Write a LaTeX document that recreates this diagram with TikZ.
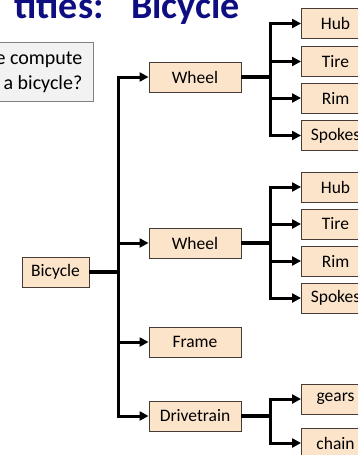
\documentclass[tikz,border=0pt]{standalone}
\usepackage{fontspec}
\setmainfont{Carlito}
\usetikzlibrary{arrows.meta}
\definecolor{titleblue}{RGB}{14,14,130}
\definecolor{peach}{RGB}{252,228,202}
\definecolor{boxline}{RGB}{70,60,55}
\definecolor{greyfill}{RGB}{242,242,242}
\definecolor{greyline}{RGB}{128,128,128}
\tikzset{
  part/.style={draw=boxline, line width=0.9pt, fill=peach, inner sep=0pt,
    minimum height=30pt, font=\fontsize{17.5}{20}\selectfont},
  lvlone/.style={part, minimum width=92pt},
  lvltwo/.style={part, minimum width=68pt},
  stem/.style={line width=3.6pt},
  branch/.style={line width=3pt, -{Triangle[length=9pt,width=9pt]}},
}
\begin{document}
\begin{tikzpicture}[x=1pt,y=-1pt]
\useasboundingbox (0,0) rectangle (358,455);
\begin{scope}
\clip (0,0) rectangle (358,455);
% title
\node[anchor=base east, inner sep=0pt, text=titleblue, font=\fontsize{38}{40}\bfseries] (t1) at (104,19) {tities:};
\node[anchor=base west, inner sep=0pt, text=titleblue, font=\fontsize{38}{40}\bfseries] (t2) at (131,19) {Bicycle};
% question box
\node[draw=greyline, fill=greyfill, line width=0.8pt, minimum width=108pt, minimum height=59pt, inner sep=0pt] (q) at (39,71.5) {};
\node[anchor=base east, inner sep=0pt, font=\fontsize{20}{23}\selectfont] (q1) at (82.5,64.5) {e compute};
\node[anchor=base east, inner sep=0pt, font=\fontsize{20}{23}\selectfont] (q2) at (82.5,89) {a bicycle?};
% nodes
\node[part, minimum width=67pt] (bicycle) at (55.5,272) {Bicycle};
\node[lvlone] (wheelA) at (195,77) {Wheel};
\node[lvlone] (wheelB) at (195,243) {Wheel};
\node[lvlone] (frame) at (195,342) {Frame};
\node[lvlone] (drive) at (195,416) {Drivetrain};
\node[lvltwo] (hubA) at (335.5,23.5) {Hub};
\node[lvltwo] (tireA) at (335.5,61.5) {Tire};
\node[lvltwo] (rimA) at (335.5,98) {Rim};
\node[lvltwo] (spokesA) at (335.5,135.5) {Spokes};
\node[lvltwo] (hubB) at (335.5,187) {Hub};
\node[lvltwo] (tireB) at (335.5,224) {Tire};
\node[lvltwo] (rimB) at (335.5,261) {Rim};
\node[lvltwo] (spokesB) at (335.5,298) {Spokes};
\node[lvltwo] (gears) at (335.5,399) {gears};
\node[lvltwo] (chain) at (335.5,443) {chain};
% junctions
\coordinate (j0) at (118,272);
\coordinate (jA) at (270,77);
\coordinate (jB) at (270,243);
\coordinate (jD) at (270,416);
% connectors
\draw[stem] (bicycle.east) -- (j0);
\foreach \n in {wheelA,wheelB,frame,drive} \draw[branch] (j0) |- (\n.west);
\draw[stem, line width=4pt] (wheelA.east) -- (jA);
\foreach \n in {hubA,tireA,rimA,spokesA} \draw[branch] (jA) |- (\n.west);
\draw[stem, line width=4pt] (wheelB.east) -- (jB);
\foreach \n in {hubB,tireB,rimB,spokesB} \draw[branch] (jB) |- (\n.west);
\draw[stem, line width=4pt] (drive.east) -- (jD);
\foreach \n in {gears,chain} \draw[branch] (jD) |- (\n.west);
\end{scope}
\end{tikzpicture}
\end{document}
